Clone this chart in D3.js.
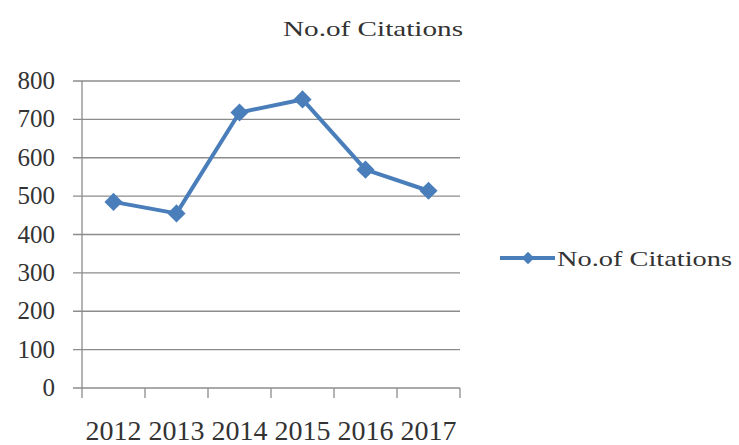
<!DOCTYPE html>
<head>
    <meta charset="utf-8">
    <script src="https://d3js.org/d3.v7.min.js"></script>
    <style>
        body { margin: 0; background: #fff; }
        text { font-family: "Liberation Serif", serif; fill: #333; }
    </style>
</head>
<body>
    <div id="chart"></div>
    <script>
        var years = ["2012", "2013", "2014", "2015", "2016", "2017"]
        var citations = [485, 455, 718, 752, 569, 514]
        var yTicks = [0, 100, 200, 300, 400, 500, 600, 700, 800]
        var seriesName = "No.of Citations"

        var width = 739, height = 445
        var plot = { left: 82, right: 460, top: 81, bottom: 388 }
        var blue = "#4a7ebb"

        var svg = d3.select("#chart").append("svg")
            .attr("width", width)
            .attr("height", height)

        var x = d3.scaleBand().domain(years).range([plot.left, plot.right])
        var y = d3.scaleLinear().domain([0, 800]).range([plot.bottom, plot.top])

        // gridlines
        svg.append("g")
            .selectAll("line")
            .data(yTicks)
            .enter().append("line")
            .attr("x1", plot.left - 9)
            .attr("x2", plot.right)
            .attr("y1", d => y(d))
            .attr("y2", d => y(d))
            .attr("stroke", "#8c8c8c")
            .attr("stroke-width", 1.3)

        // y axis line
        svg.append("line")
            .attr("x1", plot.left).attr("x2", plot.left)
            .attr("y1", plot.top).attr("y2", plot.bottom)
            .attr("stroke", "#8c8c8c").attr("stroke-width", 1.3)

        // x axis ticks between categories
        var xBounds = years.map(d => x(d)).concat([plot.right])
        svg.append("g")
            .selectAll("line")
            .data(xBounds)
            .enter().append("line")
            .attr("x1", d => d).attr("x2", d => d)
            .attr("y1", plot.bottom).attr("y2", plot.bottom + 10)
            .attr("stroke", "#8c8c8c").attr("stroke-width", 1.3)

        // y labels
        svg.append("g")
            .selectAll("text")
            .data(yTicks)
            .enter().append("text")
            .attr("x", 55)
            .attr("y", d => y(d) + 8)
            .attr("text-anchor", "end")
            .attr("font-size", 25)
            .text(d => d)

        // x labels
        svg.append("g")
            .selectAll("text")
            .data(years)
            .enter().append("text")
            .attr("x", d => x(d) + x.bandwidth() / 2)
            .attr("y", 440)
            .attr("text-anchor", "middle")
            .attr("font-size", 28)
            .text(d => d)

        // line
        var line = d3.line()
            .x((d, i) => x(years[i]) + x.bandwidth() / 2)
            .y(d => y(d))

        svg.append("path")
            .datum(citations)
            .attr("d", line)
            .attr("fill", "none")
            .attr("stroke", blue)
            .attr("stroke-width", 4)
            .attr("stroke-linejoin", "round")

        var diamond = d3.symbol().type(d3.symbolDiamond2).size(210)
        svg.append("g")
            .selectAll("path")
            .data(citations)
            .enter().append("path")
            .attr("d", diamond)
            .attr("transform", (d, i) => "translate(" + (x(years[i]) + x.bandwidth() / 2) + "," + y(d) + ")")
            .attr("fill", blue)

        // title
        svg.append("text")
            .attr("x", 283)
            .attr("y", 36)
            .attr("font-family", "DejaVu Serif")
            .attr("font-size", 21)
            .attr("textLength", 180)
            .attr("lengthAdjust", "spacingAndGlyphs")
            .text(seriesName)

        // legend
        var lg = svg.append("g")
        lg.append("line")
            .attr("x1", 500).attr("x2", 555)
            .attr("y1", 258).attr("y2", 258)
            .attr("stroke", blue).attr("stroke-width", 4)
        lg.append("path")
            .attr("d", d3.symbol().type(d3.symbolDiamond2).size(100))
            .attr("transform", "translate(528,258)")
            .attr("fill", blue)
        lg.append("text")
            .attr("x", 557)
            .attr("y", 266)
            .attr("font-family", "DejaVu Serif")
            .attr("font-size", 21)
            .attr("textLength", 175)
            .attr("lengthAdjust", "spacingAndGlyphs")
            .text(seriesName)
    </script>
</body>
</html>
